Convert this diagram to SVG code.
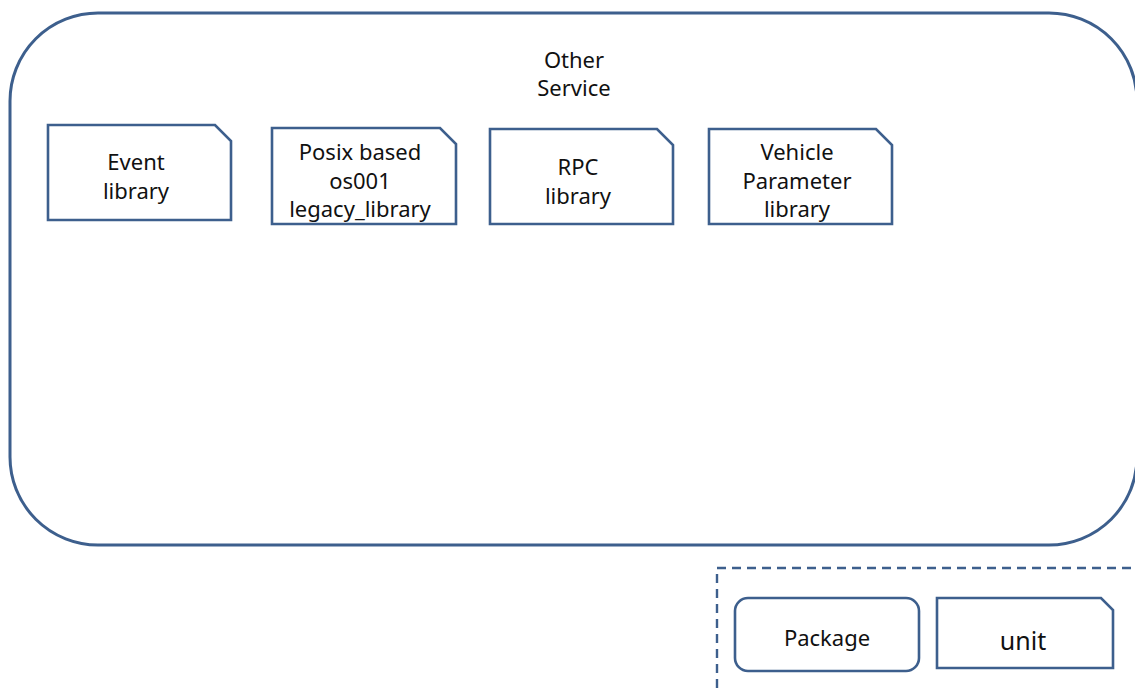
<svg xmlns="http://www.w3.org/2000/svg" width="1135" height="691" viewBox="0 0 1135 691">
<style>
.s{fill:#fff;stroke:#3d5f8d;stroke-width:2.6}
.t{font-family:"Noto Sans","Open Sans",sans-serif;font-size:22px;fill:#111;text-anchor:middle}
</style>
<rect x="0" y="0" width="1135" height="691" fill="#fff"/>
<g id="other-service">
<rect x="10" y="13" width="1127" height="532" rx="88" ry="88" fill="#fff" stroke="#3d5f8d" stroke-width="3"/>
<text class="t" x="574" y="68">Other</text>
<text class="t" x="574" y="96">Service</text>
</g>
<g id="event-library">
<path class="s" d="M48,125 H215 L231,141 V220 H48 Z"/>
<text class="t" x="136" y="170">Event</text>
<text class="t" x="136" y="199">library</text>
</g>
<g id="posix-library">
<path class="s" d="M272,128 H440 L456,144 V224 H272 Z"/>
<text class="t" x="360" y="160">Posix based</text>
<text class="t" x="360" y="189">os001</text>
<text class="t" x="360" y="217">legacy_library</text>
</g>
<g id="rpc-library">
<path class="s" d="M490,129 H657 L673,145 V224 H490 Z"/>
<text class="t" x="578" y="175">RPC</text>
<text class="t" x="578" y="204">library</text>
</g>
<g id="vehicle-parameter-library">
<path class="s" d="M709,129 H876 L892,145 V224 H709 Z"/>
<text class="t" x="797" y="160">Vehicle</text>
<text class="t" x="797" y="189">Parameter</text>
<text class="t" x="797" y="217">library</text>
</g>
<g id="legend">
<rect x="717" y="568" width="430" height="140" fill="none" stroke="#3d5f8d" stroke-width="2.4" stroke-dasharray="9,6"/>
<g id="package">
<rect class="s" x="735" y="598" width="184" height="73" rx="13" ry="13"/>
<text class="t" x="827" y="646">Package</text>
</g>
<g id="unit">
<path class="s" d="M937,598 H1101 L1113,610 V668 H937 Z"/>
<text class="t" x="1023" y="650" style="font-size:25px">unit</text>
</g>
</g>
<g id="connectors"></g>
</svg>
